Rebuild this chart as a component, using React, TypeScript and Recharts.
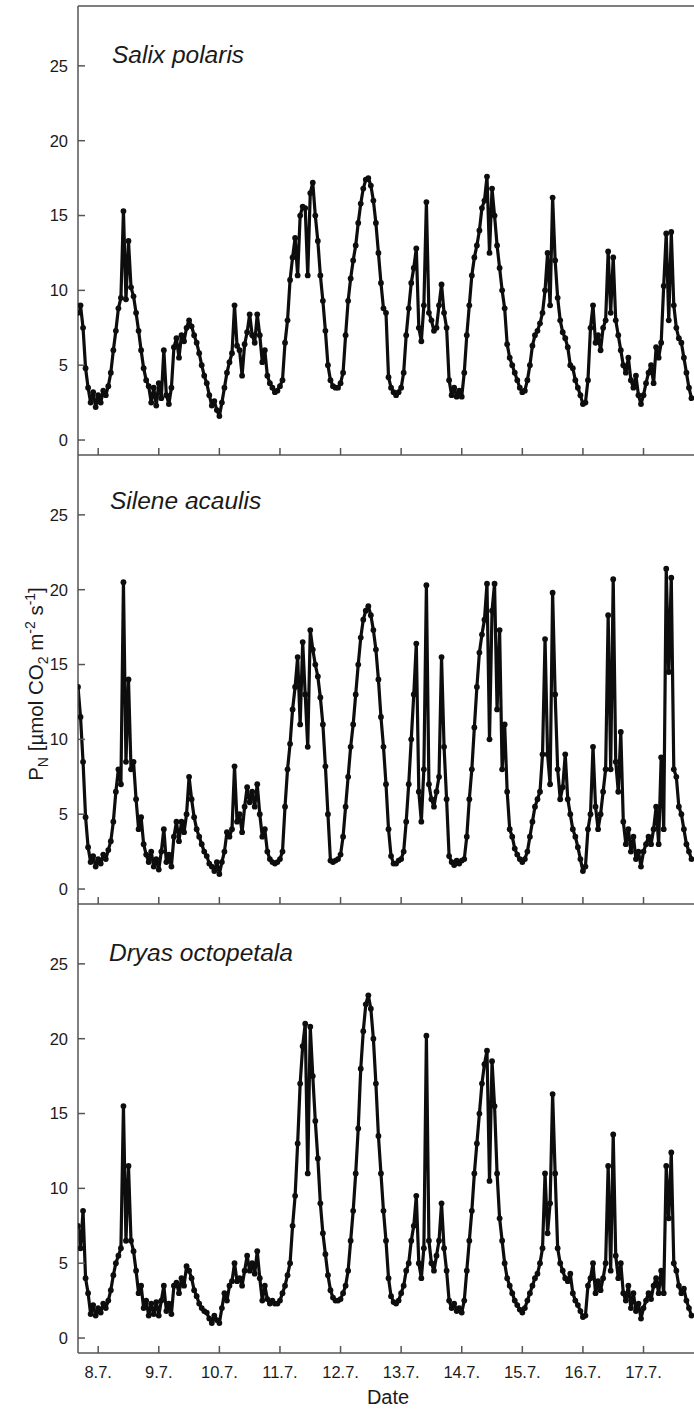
import React from "react";
import { LineChart, Line, XAxis, YAxis, ReferenceLine } from "recharts";

// hourly net photosynthesis readings, first value at 7.7. 16:00 (hour -8 from 8.7. 00:00)
const START_HOUR = -8;
const DAY_TICKS = [0, 24, 48, 72, 96, 120, 144, 168, 192, 216];
const DAY_LABELS = ["8.7.", "9.7.", "10.7.", "11.7.", "12.7.", "13.7.", "14.7.", "15.7.", "16.7.", "17.7."];
const Y_TICKS = [0, 5, 10, 15, 20, 25];

const salixPolaris = [
  8.5, 9.0, 7.5, 4.8, 3.5, 2.5, 3.2, 2.2,
  3.0, 2.5, 3.3, 3.0, 3.6, 4.5, 6.0, 7.3, 8.8, 9.5, 15.3, 9.4,
  13.3, 10.2, 9.6, 8.5, 7.3, 6.0, 4.8, 4.0, 3.6, 2.5, 3.5, 2.3,
  3.8, 2.8, 6.0, 3.0, 2.4, 3.5, 6.2, 6.8, 5.5, 7.0, 6.6, 7.5,
  8.0, 7.6, 7.0, 6.5, 5.8, 5.0, 4.3, 3.8, 3.0, 2.3, 2.6, 2.0,
  1.6, 2.5, 3.5, 4.5, 5.2, 5.8, 9.0, 6.3, 6.0, 4.3, 6.4, 7.2,
  8.4, 7.0, 6.5, 8.4, 7.0, 5.2, 6.0, 4.3, 3.8, 3.5, 3.2, 3.3,
  3.6, 4.0, 6.5, 8.0, 10.7, 12.2, 13.5, 11.0, 15.0, 15.6, 15.5, 11.0,
  16.5, 17.2, 15.0, 13.3, 11.0, 9.3, 7.3, 5.0, 4.0, 3.6, 3.5, 3.5,
  3.8, 4.5, 7.0, 9.3, 10.8, 12.0, 13.0, 14.5, 15.8, 16.8, 17.4, 17.5,
  17.0, 16.0, 14.5, 12.5, 10.5, 8.8, 8.5, 4.2, 3.5, 3.2, 3.0, 3.2,
  3.5, 4.5, 7.0, 8.8, 10.5, 11.5, 12.8, 7.5, 6.6, 9.0, 15.9, 8.5,
  8.0, 7.3, 7.5, 9.0, 10.4, 8.5, 7.5, 4.0, 3.0, 3.5, 2.9, 3.3,
  2.9, 4.5, 7.0, 9.0, 11.0, 12.2, 13.0, 14.0, 15.5, 16.0, 17.6, 12.5,
  16.8, 15.0, 13.0, 11.5, 10.0, 8.8, 6.4, 5.5, 5.0, 4.5, 4.0, 3.5,
  3.2, 3.3, 4.0, 5.0, 6.3, 7.0, 7.3, 7.8, 8.5, 10.0, 12.5, 9.0,
  16.2, 12.0, 9.5, 8.0, 7.2, 6.8, 6.2, 5.0, 4.8, 4.0, 3.5, 3.0,
  2.4, 2.5, 4.0, 7.5, 9.0, 6.5, 7.0, 6.0, 7.5, 8.0, 12.6, 8.5,
  12.2, 8.0, 7.0, 6.0, 5.0, 4.5, 5.5, 4.0, 3.5, 4.3, 3.0, 2.4,
  3.0, 3.8, 4.5, 5.0, 3.8, 6.2, 5.5, 6.5, 10.3, 13.8, 8.0, 13.9,
  9.0, 7.5, 6.8, 6.5, 5.5, 4.5, 3.5, 2.8,
];

const sileneAcaulis = [
  13.5, 11.5, 8.5, 4.8, 2.8, 1.8, 2.2, 1.5,
  2.0, 1.7, 2.3, 2.0, 2.6, 3.2, 4.5, 6.5, 8.0, 7.0, 20.5, 8.5,
  14.0, 8.0, 8.5, 6.0, 4.0, 4.8, 3.0, 2.3, 1.8, 2.5, 1.5, 2.0,
  1.3, 2.5, 4.0, 1.8, 2.3, 1.5, 3.5, 4.5, 3.2, 4.5, 3.8, 5.0,
  7.5, 6.0, 4.8, 4.0, 3.5, 3.0, 2.5, 2.2, 1.7, 1.5, 1.2, 1.8,
  1.0, 1.8, 2.5, 3.8, 3.5, 4.0, 8.2, 4.5, 5.0, 3.8, 5.5, 6.8,
  5.8, 6.5, 5.5, 7.0, 5.0, 3.5, 4.0, 2.5, 2.0, 1.8, 1.7, 1.8,
  2.0, 2.5, 5.5, 8.0, 9.7, 12.0, 13.5, 15.5, 11.0, 16.5, 13.0, 9.5,
  17.3, 16.0, 15.0, 14.2, 12.8, 11.0, 8.2, 5.0, 1.9, 1.8, 1.9, 2.0,
  2.3, 3.5, 5.5, 7.5, 9.5, 11.0, 13.0, 15.0, 16.8, 18.0, 18.6, 18.9,
  18.3, 17.3, 16.0, 14.0, 11.5, 9.5, 7.0, 4.0, 2.2, 1.7, 1.7, 1.9,
  2.0, 2.5, 4.5, 7.0, 10.0, 13.0, 16.4, 6.5, 4.5, 8.0, 20.3, 7.0,
  6.0, 5.5, 6.5, 7.5, 15.5, 9.5, 6.0, 2.2, 1.8, 1.6, 1.9, 1.7,
  1.9, 2.0, 3.5, 6.0, 8.0, 10.8, 13.5, 15.8, 17.0, 18.0, 20.4, 10.0,
  18.6, 20.4, 12.0, 17.3, 8.0, 11.0, 6.5, 4.0, 3.5, 2.7, 2.3, 2.0,
  1.8, 2.0, 2.5, 3.5, 4.5, 5.5, 6.0, 6.5, 9.0, 16.7, 9.0, 7.0,
  19.8, 13.0, 8.0, 6.0, 6.8, 9.0, 6.0, 5.0, 4.0, 3.5, 2.8, 2.0,
  1.2, 1.5, 4.0, 5.0, 9.5, 5.5, 4.0, 5.0, 6.5, 8.0, 18.3, 8.0,
  20.7, 8.5, 6.5, 10.5, 4.5, 3.0, 4.0, 2.5, 3.5, 2.0, 2.5, 1.5,
  2.5, 3.0, 3.5, 3.0, 4.0, 5.5, 3.0, 8.8, 4.0, 21.4, 14.5, 20.8,
  8.0, 7.5, 5.5, 5.0, 4.0, 3.0, 2.5, 2.0,
];

const dryasOctopetala = [
  7.5, 6.0, 8.5, 4.0, 3.0, 1.6, 2.2, 1.5,
  2.0, 1.7, 2.3, 2.0, 2.5, 3.2, 4.2, 5.0, 5.5, 6.0, 15.5, 6.5,
  11.5, 6.5, 5.8, 4.5, 3.0, 3.5, 2.0, 2.5, 1.5, 2.3, 1.6, 2.4,
  1.5, 2.5, 3.5, 1.8, 2.3, 1.6, 3.5, 3.7, 3.0, 4.0, 3.5, 4.8,
  4.5, 4.0, 3.2, 2.8, 2.3, 2.0, 1.8, 1.7, 1.3, 1.0, 1.5, 1.2,
  1.0, 2.0, 3.0, 2.5, 3.5, 3.8, 5.0, 3.8, 4.0, 3.5, 4.5, 5.5,
  4.5, 5.0, 4.3, 5.8, 4.0, 2.5, 3.5, 2.6, 2.3, 2.5, 2.3, 2.3,
  2.5, 3.0, 3.5, 4.2, 5.0, 7.5, 9.5, 13.0, 17.0, 19.5, 21.0, 11.0,
  20.8, 17.5, 14.5, 12.0, 9.0, 7.0, 5.6, 4.2, 3.2, 2.7, 2.5, 2.5,
  2.6, 3.0, 3.5, 4.5, 6.5, 8.5, 11.0, 14.0, 18.0, 20.5, 22.3, 22.9,
  22.0, 20.0, 17.0, 13.5, 11.0, 8.5, 6.5, 4.0, 2.8, 2.4, 2.3, 2.5,
  3.0, 3.5, 4.5, 5.0, 6.5, 7.5, 9.5, 5.0, 4.0, 6.0, 20.2, 6.5,
  5.0, 4.5, 5.5, 6.5, 9.0, 6.0, 4.5, 2.5, 2.0, 2.3, 1.8, 2.0,
  1.7, 2.5, 4.5, 6.5, 8.5, 11.0, 13.0, 15.0, 17.0, 18.3, 19.2, 10.5,
  18.5, 15.5, 11.0, 8.0, 6.5, 5.0, 4.0, 3.5, 3.0, 2.5, 2.2, 1.9,
  1.7, 2.0, 2.5, 3.0, 3.5, 4.0, 4.3, 5.0, 6.0, 11.0, 7.0, 9.0,
  16.3, 11.0, 6.0, 5.0, 4.5, 4.0, 3.8, 4.3, 3.0, 2.5, 2.2, 1.8,
  1.4, 1.5, 3.5, 4.0, 5.0, 3.0, 3.8, 3.2, 4.0, 5.0, 11.5, 4.5,
  13.6, 5.5, 4.0, 5.0, 3.0, 2.5, 3.5, 2.0, 3.0, 1.8, 2.3, 1.3,
  2.0, 2.5, 3.0, 2.6, 3.5, 4.0, 3.0, 4.5, 3.0, 11.5, 8.0, 12.4,
  5.0, 4.5, 3.5, 3.0, 3.3, 2.5, 2.0, 1.5,
];

const FONT = "'Liberation Sans', Arial, sans-serif";
const AXIS = "#555";
const INK = "#0d0d0d";

const toRows = (values: number[]) => values.map((v, i) => ({ hour: START_HOUR + i, pn: v }));

interface PanelProps {
  values: number[];
  top: number;
  height: number;
  axisHeight: number;
  showDates?: boolean;
  topBorder?: boolean;
}

function Panel({ values, top, height, axisHeight, showDates, topBorder }: PanelProps) {
  return (
    <div style={{ position: "absolute", left: 0, top }}>
      <LineChart width={694} height={height} data={toRows(values)} margin={{ top: 6, right: 0, bottom: 0, left: 0 }}>
        <XAxis
          dataKey="hour"
          type="number"
          domain={[-8, 236]}
          allowDataOverflow
          ticks={DAY_TICKS}
          interval={0}
          height={axisHeight}
          tickSize={-7}
          tickMargin={20}
          axisLine={{ stroke: AXIS, strokeWidth: 1.5 }}
          tickLine={{ stroke: AXIS, strokeWidth: 1.5 }}
          tick={{ fontSize: 16.5, fill: "#1a1a1a", fontFamily: FONT }}
          tickFormatter={(h: number) => (showDates ? DAY_LABELS[DAY_TICKS.indexOf(h)] ?? "" : "")}
        />
        <YAxis
          type="number"
          domain={[-1, 29]}
          allowDataOverflow
          ticks={Y_TICKS}
          interval={0}
          width={78}
          tickSize={-7}
          tickMargin={17}
          axisLine={{ stroke: AXIS, strokeWidth: 1.5 }}
          tickLine={{ stroke: AXIS, strokeWidth: 1.5 }}
          tick={{ fontSize: 16.5, fill: "#1a1a1a", fontFamily: FONT }}
        />
        {topBorder && <ReferenceLine y={29} stroke={AXIS} strokeWidth={1.5} />}
        <Line
          type="linear"
          dataKey="pn"
          stroke={INK}
          strokeWidth={3.2}
          strokeLinejoin="round"
          dot={{ r: 2.9, fill: INK, stroke: "none" }}
          isAnimationActive={false}
        />
      </LineChart>
    </div>
  );
}

export default function App() {
  return (
    <div style={{ position: "absolute", left: 0, top: 0, width: 694, height: 1409, background: "#fff", overflow: "hidden" }}>
      <Panel values={salixPolaris} top={0} height={495} axisHeight={40} topBorder />
      <Panel values={sileneAcaulis} top={449} height={495} axisHeight={40} />
      <Panel values={dryasOctopetala} top={898} height={511} axisHeight={56} showDates />
      <svg
        width={694}
        height={1409}
        style={{ position: "absolute", left: 0, top: 0, pointerEvents: "none" }}
        fontFamily={FONT}
        fill="#1a1a1a"
      >
        <text x={112} y={63} fontSize={24.5} fontStyle="italic">Salix polaris</text>
        <text x={110} y={509} fontSize={24.5} fontStyle="italic">Silene acaulis</text>
        <text x={109} y={961} fontSize={24.5} fontStyle="italic">Dryas octopetala</text>
        <text x={388} y={1404} fontSize={20} textAnchor="middle">Date</text>
        <text transform="translate(43, 684) rotate(-90)" fontSize={20.5} textAnchor="middle">
          P<tspan dy={5} fontSize={14}>N</tspan>
          <tspan dy={-5}> [µmol CO</tspan>
          <tspan dy={5} fontSize={14}>2</tspan>
          <tspan dy={-5}> m</tspan>
          <tspan dy={-8} fontSize={14}>-2</tspan>
          <tspan dy={8}> s</tspan>
          <tspan dy={-8} fontSize={14}>-1</tspan>
          <tspan dy={8}>]</tspan>
        </text>
      </svg>
    </div>
  );
}
